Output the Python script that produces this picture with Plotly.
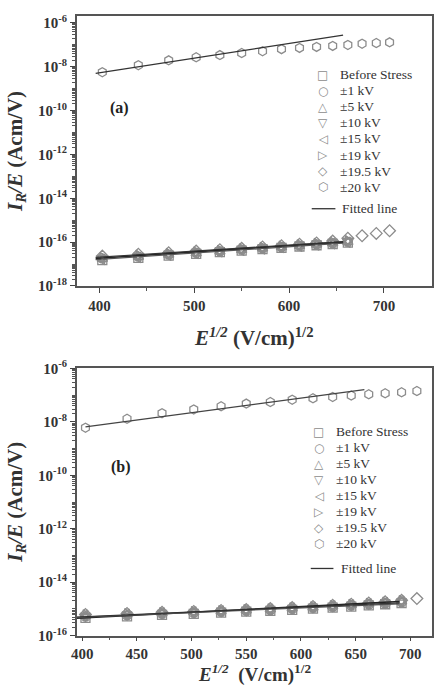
import plotly.graph_objects as go

# ---------------- data ----------------
E_half = [403, 441, 473, 502, 527, 550, 572, 592, 611, 629, 646, 662, 677, 692, 706]

names = ["Before Stress", "±1 kV", "±5 kV", "±10 kV", "±15 kV", "±19 kV", "±19.5 kV", "±20 kV"]
symbols = ["square-open", "circle-open", "triangle-up-open", "triangle-down-open",
           "triangle-left-open", "triangle-right-open", "diamond-open", "hexagon-open"]
glyphs = ["□", "○", "△", "▽", "◁", "▷", "◇", "⬡"]

# panel (a)
a_before = [1.5e-17, 1.9e-17, 2.4e-17, 2.9e-17, 3.5e-17, 4.1e-17, 4.8e-17, 5.5e-17, 6.3e-17, 7.2e-17, 8.2e-17, 9.4e-17]
a_pm1 = [1.8e-17, 2.2e-17, 2.7e-17, 3.2e-17, 3.8e-17, 4.5e-17, 5.2e-17, 6.0e-17, 6.9e-17, 7.9e-17, 9.0e-17, 1.03e-16]
a_pm5 = [1.7e-17, 2.1e-17, 2.6e-17, 3.1e-17, 3.7e-17, 4.3e-17, 5.0e-17, 5.8e-17, 6.6e-17, 7.6e-17, 8.7e-17, 1.0e-16]
a_pm10 = [1.9e-17, 2.3e-17, 2.8e-17, 3.4e-17, 4.0e-17, 4.6e-17, 5.4e-17, 6.2e-17, 7.1e-17, 8.1e-17, 9.3e-17, 1.07e-16]
a_pm15 = [1.6e-17, 2.0e-17, 2.5e-17, 3.0e-17, 3.6e-17, 4.2e-17, 4.9e-17, 5.7e-17, 6.5e-17, 7.4e-17, 8.5e-17, 9.8e-17]
a_pm19 = [2.0e-17, 2.5e-17, 3.0e-17, 3.6e-17, 4.2e-17, 4.9e-17, 5.7e-17, 6.5e-17, 7.5e-17, 8.6e-17, 9.9e-17, 1.15e-16]
a_pm195 = [2.3e-17, 2.8e-17, 3.3e-17, 3.9e-17, 4.5e-17, 5.2e-17, 6.0e-17, 6.9e-17, 8.0e-17, 9.2e-17, 1.12e-16, 1.5e-16, 1.95e-16, 2.5e-16, 3.3e-16]
a_pm20 = [5.6e-9, 1.17e-8, 1.95e-8, 2.7e-8, 3.4e-8, 4.2e-8, 5.1e-8, 6.3e-8, 7.2e-8, 8.0e-8, 8.9e-8, 9.8e-8, 1.12e-7, 1.2e-7, 1.29e-7]

a_fit_x = [396, 657]
a_fit_hi = [5.0e-9, 2.75e-7]
a_fit_lo1 = [1.8e-17, 1.0e-16]
a_fit_lo2 = [1.6e-17, 9.0e-17]
a_fit_lo3 = [2.0e-17, 1.05e-16]

# panel (b)
b_before = [4.6e-16, 5.3e-16, 6.0e-16, 6.6e-16, 7.3e-16, 7.9e-16, 8.5e-16, 9.3e-16, 1.02e-15, 1.12e-15, 1.23e-15, 1.36e-15, 1.5e-15, 1.65e-15]
b_pm1 = [5.2e-16, 5.8e-16, 6.5e-16, 7.1e-16, 7.8e-16, 8.4e-16, 9.1e-16, 1.0e-15, 1.09e-15, 1.2e-15, 1.32e-15, 1.45e-15, 1.6e-15, 1.78e-15]
b_pm5 = [5.5e-16, 6.1e-16, 6.8e-16, 7.4e-16, 8.1e-16, 8.7e-16, 9.4e-16, 1.04e-15, 1.13e-15, 1.25e-15, 1.38e-15, 1.52e-15, 1.68e-15, 1.88e-15]
b_pm10 = [5.0e-16, 5.6e-16, 6.3e-16, 6.9e-16, 7.6e-16, 8.2e-16, 8.9e-16, 9.8e-16, 1.07e-15, 1.18e-15, 1.3e-15, 1.43e-15, 1.58e-15, 1.75e-15]
b_pm15 = [5.8e-16, 6.4e-16, 7.1e-16, 7.7e-16, 8.4e-16, 9.0e-16, 9.7e-16, 1.07e-15, 1.17e-15, 1.29e-15, 1.42e-15, 1.57e-15, 1.74e-15, 1.95e-15]
b_pm19 = [6.0e-16, 6.6e-16, 7.3e-16, 7.9e-16, 8.6e-16, 9.3e-16, 1.0e-15, 1.1e-15, 1.2e-15, 1.32e-15, 1.46e-15, 1.62e-15, 1.8e-15, 2.02e-15]
b_pm195 = [6.2e-16, 6.8e-16, 7.5e-16, 8.1e-16, 8.8e-16, 9.5e-16, 1.03e-15, 1.13e-15, 1.24e-15, 1.36e-15, 1.5e-15, 1.67e-15, 1.86e-15, 2.1e-15, 2.45e-15]
b_pm20 = [6.0e-9, 1.3e-8, 2.1e-8, 2.9e-8, 3.8e-8, 4.8e-8, 5.5e-8, 6.7e-8, 7.6e-8, 8.5e-8, 9.6e-8, 1.07e-7, 1.17e-7, 1.27e-7, 1.42e-7]

b_fit_x_hi = [403, 658]
b_fit_hi = [6.5e-9, 1.6e-7]
b_fit_x_lo = [395, 690]
b_fit_lo1 = [4.5e-16, 1.9e-15]
b_fit_lo2 = [4.8e-16, 1.55e-15]
b_fit_lo3 = [5.0e-16, 1.7e-15]

a_xticks = [400, 500, 600, 700]
a_xminor = [450, 550, 650]
b_xticks = [400, 450, 500, 550, 600, 650, 700]
b_xminor = [425, 475, 525, 575, 625, 675]
a_yexp = [-6, -8, -10, -12, -14, -16, -18]
b_yexp = [-6, -8, -10, -12, -14, -16]

# ---------------- styles ----------------
FONT = "Liberation Serif, Times New Roman, serif"
MCOL = "#8c8c8c"
W, H = 436, 696
L, R = 71.7, 431.7

fig = go.Figure()

def add_panel(series, fits, xa, ya):
    for nm, sym, ys in zip(names, symbols, series):
        fig.add_trace(go.Scatter(
            x=E_half[:len(ys)], y=ys, mode="markers", name=nm,
            marker=dict(symbol=sym, size=9, color=MCOL, line=dict(color=MCOL, width=1.3)),
            xaxis=xa, yaxis=ya, showlegend=False))
    for fx, fy, col, wd in fits:
        fig.add_trace(go.Scatter(
            x=fx, y=fy, mode="lines", name="Fitted line",
            line=dict(color=col, width=wd), showlegend=False,
            xaxis=xa, yaxis=ya))

add_panel([a_before, a_pm1, a_pm5, a_pm10, a_pm15, a_pm19, a_pm195, a_pm20],
          [(a_fit_x, a_fit_hi, "#333333", 1.2),
           (a_fit_x, a_fit_lo1, "#222222", 1.6),
           (a_fit_x, a_fit_lo2, "#555555", 1.2),
           (a_fit_x, a_fit_lo3, "#333333", 1.2)],
          "x", "y")
add_panel([b_before, b_pm1, b_pm5, b_pm10, b_pm15, b_pm19, b_pm195, b_pm20],
          [(b_fit_x_hi, b_fit_hi, "#444444", 1.2),
           (b_fit_x_lo, b_fit_lo1, "#222222", 1.4),
           (b_fit_x_lo, b_fit_lo2, "#555555", 1.2),
           (b_fit_x_lo, b_fit_lo3, "#333333", 1.2)],
          "x2", "y2")

def py(px):  # pixel y from top -> paper
    return 1 - px / H

def px_(x):
    return x / W

def log_minor(exps):
    lo, hi = min(exps), max(exps)
    vals = []
    for e in range(lo, hi + 1):
        for k in range(1, 10):
            if e == hi and k > 1:
                break
            if k == 1 and e in exps:
                continue
            vals.append(k * 10.0 ** e)
    return vals

tick_common = dict(showline=True, linecolor="#555555", linewidth=1.5, mirror=True,
                   ticks="outside", ticklen=5, tickwidth=1.3, tickcolor="#444444",
                   showgrid=False, zeroline=False,
                   tickfont=dict(family=FONT, size=15, color="#333333", weight="bold"))
minor_common = dict(ticks="outside", ticklen=3, tickwidth=1, tickcolor="#555555",
                    showgrid=False, tickmode="array")

xtitle_a = "<b><i>E</i><sup><i>1/2</i></sup> (V/cm)<sup>1/2</sup></b>"
xtitle_b = "<b><i>E</i><sup><i>1/2</i></sup>  (V/cm)<sup>1/2</sup></b>"
ytitle = "<b><i>I</i><sub><i>R</i></sub><i>/E</i> (Acm/V)</b>"
tfont = dict(family=FONT, size=21, color="#333333")
tfont_b = dict(family=FONT, size=19, color="#333333")

annotations = [
    dict(text="<b>(a)</b>", xref="x domain", yref="y domain", x=0.087, y=0.66,
         showarrow=False, font=dict(family=FONT, size=16, color="#222222")),
    dict(text="<b>(b)</b>", xref="x2 domain", yref="y2 domain", x=0.09, y=0.67,
         showarrow=False, font=dict(family=FONT, size=16, color="#222222")),
    dict(text=xtitle_b, xref="x2 domain", yref="paper", x=0.5, y=py(696),
         xanchor="center", yanchor="bottom", showarrow=False, font=tfont_b),
]
shapes = []

# custom legends (layout only)
LEG_STEP = 16.43
for sym_x, txt_x, y0, fit_y, line_x0, line_x1, fit_txt_x in [
        (321, 337, 66.7, 204.0, 310, 334, 339),
        (317.3, 332.7, 432.7, 573.3, 309, 332, 337.7)]:
    for i, (nm, g) in enumerate(zip(names, glyphs)):
        yy = y0 + i * LEG_STEP
        annotations.append(dict(text=g, xref="paper", yref="paper", x=px_(sym_x), y=py(yy),
                                xanchor="center", yanchor="middle", showarrow=False,
                                font=dict(family="DejaVu Sans", size=12, color=MCOL)))
        annotations.append(dict(text=nm, xref="paper", yref="paper", x=px_(txt_x), y=py(yy),
                                xanchor="left", yanchor="middle", showarrow=False,
                                font=dict(family=FONT, size=13.5, color="#333333")))
    annotations.append(dict(text="Fitted line", xref="paper", yref="paper", x=px_(fit_txt_x), y=py(fit_y),
                            xanchor="left", yanchor="middle", showarrow=False,
                            font=dict(family=FONT, size=13.5, color="#333333")))
    shapes.append(dict(type="line", xref="paper", yref="paper",
                       x0=px_(line_x0), x1=px_(line_x1), y0=py(fit_y), y1=py(fit_y),
                       line=dict(color="#333333", width=1.3)))

fig.update_layout(
    width=W, height=H, margin=dict(l=0, r=0, t=0, b=0),
    paper_bgcolor="white", plot_bgcolor="white", showlegend=False,
    xaxis=dict(**tick_common, domain=[L / W, R / W], anchor="y", range=[376, 750.5],
               tickmode="array", tickvals=a_xticks,
               minor=dict(**minor_common, tickvals=a_xminor),
               title=dict(text=xtitle_a, font=tfont, standoff=18)),
    yaxis=dict(**tick_common, type="log", domain=[py(283.3), py(6)], anchor="x", range=[-18, -5.68],
               tickmode="array", tickvals=[10.0 ** e for e in a_yexp],
               ticktext=[f"10<sup>{e}</sup>" for e in a_yexp],
               minor=dict(**minor_common, tickvals=log_minor(a_yexp)),
               title=dict(text=ytitle, font=tfont, standoff=10)),
    xaxis2=dict(**{**tick_common, "ticklen": 4}, domain=[L / W, R / W], anchor="y2", range=[395, 719.6],
                tickmode="array", tickvals=b_xticks,
                minor=dict(**minor_common, tickvals=b_xminor)),
    yaxis2=dict(**tick_common, type="log", domain=[py(642.3), py(367.3)], anchor="x2", range=[-16, -5.98],
                tickmode="array", tickvals=[10.0 ** e for e in b_yexp],
                ticktext=[f"10<sup>{e}</sup>" for e in b_yexp],
                minor=dict(**minor_common, tickvals=log_minor(b_yexp)),
                title=dict(text=ytitle, font=tfont, standoff=10)),
    annotations=annotations,
    shapes=shapes,
)

fig.write_html("out.html")
